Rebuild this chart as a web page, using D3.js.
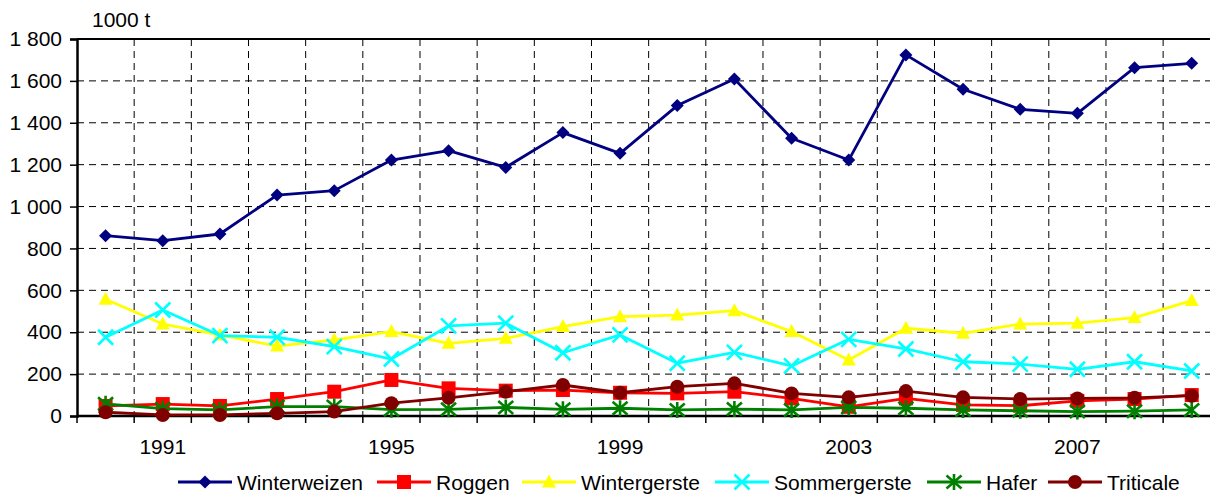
<!DOCTYPE html>
<html><head><meta charset="utf-8">
<script src="https://cdn.jsdelivr.net/npm/d3@7"></script>
<style>html,body{margin:0;padding:0;background:#fff;overflow:hidden}svg{display:block}text{font-family:"Liberation Sans",Arial,sans-serif}</style>
</head><body><svg id="c" width="1210" height="494"></svg>
<script>
const years = [1990,1991,1992,1993,1994,1995,1996,1997,1998,1999,2000,2001,2002,2003,2004,2005,2006,2007,2008,2009];
const xTickLabels = [1991,1995,1999,2003,2007];
const yTicks = [0,200,400,600,800,1000,1200,1400,1600,1800];
const unitLabel = "1000 t";
const seriesNames = ["Winterweizen","Roggen","Wintergerste","Sommergerste","Hafer","Triticale"];
const winterweizen = [861,837,869,1055,1076,1222,1267,1187,1353,1254,1482,1609,1326,1222,1724,1560,1464,1445,1663,1684];
const roggen = [48,57,48,81,116,172,132,121,124,111,108,116,84,44,84,53,49,72,81,100];
const wintergerste = [557,439,387,334,363,403,347,371,427,474,482,503,403,267,419,395,439,443,470,551];
const sommergerste = [376,506,384,376,331,272,430,443,302,387,252,304,239,366,320,259,248,223,259,215];
const hafer = [58,35,29,45,45,30,32,41,32,37,29,33,29,41,37,29,25,21,23,29];
const triticale = [18,5,5,13,21,61,87,116,148,111,140,156,108,89,119,89,81,84,87,97];
const seriesValues = [winterweizen,roggen,wintergerste,sommergerste,hafer,triticale];
const colors = ["#000080","#ff0000","#ffff00","#00ffff","#008000","#800000"];
const markers = ["diamond","square","triangle","x","star","circle"];

const svg = d3.select("#c");
const L = 77, R = 1220.3, T = 39, B = 416;
const FS = 21;
const x = d3.scaleBand().domain(years).range([L, R]);
const y = d3.scaleLinear().domain([0,1800]).range([B, T]);
const fmt = d3.formatLocale({decimal:",", thousands:" ", grouping:[3], currency:["","€"]}).format(",d");

// grid
const g = svg.append("g");
g.selectAll(".hg").data(yTicks.filter(d=>d>0&&d<1800)).join("line")
  .attr("x1",L).attr("x2",R).attr("y1",d=>y(d)).attr("y2",d=>y(d))
  .attr("stroke","#000").attr("stroke-width",1).attr("stroke-dasharray","7,5");
g.selectAll(".vg").data(years.slice(1)).join("line")
  .attr("x1",d=>x(d)).attr("x2",d=>x(d)).attr("y1",T).attr("y2",B)
  .attr("stroke","#000").attr("stroke-width",1).attr("stroke-dasharray","7,5");

// top border
svg.append("line").attr("x1",L).attr("x2",R).attr("y1",T).attr("y2",T).attr("stroke","#000").attr("stroke-width",2);

// y axis
const yAxis = d3.axisLeft(y).tickValues(yTicks).tickFormat(fmt).tickSize(7).tickPadding(8);
const ya = svg.append("g").attr("transform",`translate(${L},0)`).call(yAxis);
ya.select(".domain").attr("stroke-width",2.5);
ya.selectAll(".tick line").attr("stroke-width",1.5);
ya.selectAll("text").attr("font-size",FS).attr("font-family","Liberation Sans, Arial, sans-serif").attr("fill","#000");

// x axis
const xa = svg.append("g").attr("transform",`translate(0,${B})`);
xa.append("line").attr("x1",L).attr("x2",R).attr("stroke","#000").attr("stroke-width",2.5);
xa.selectAll(".xt").data(years).join("line")
  .attr("x1",d=>x(d)).attr("x2",d=>x(d)).attr("y1",0).attr("y2",7).attr("stroke","#000").attr("stroke-width",1.5);
xa.selectAll(".xl").data(xTickLabels).join("text")
  .attr("x",d=>x(d)+x.bandwidth()/2).attr("y",38).attr("text-anchor","middle")
  .attr("font-size",FS).text(d=>d);

svg.append("text").attr("x",92).attr("y",27).attr("font-size",FS).text(unitLabel);

function drawMarker(sel, type, color, cx, cy) {
  const gg = sel.append("g").attr("transform",`translate(${cx},${cy})`);
  if (type==="diamond") gg.append("path").attr("d","M0,-6.5L6.5,0L0,6.5L-6.5,0Z").attr("fill",color);
  else if (type==="square") gg.append("rect").attr("x",-7).attr("y",-7).attr("width",14).attr("height",14).attr("fill",color);
  else if (type==="triangle") gg.append("path").attr("d","M0,-7.5L7,5.5L-7,5.5Z").attr("fill",color);
  else if (type==="x") gg.append("path").attr("d","M-7.5,-7.5L7.5,7.5M7.5,-7.5L-7.5,7.5").attr("stroke",color).attr("stroke-width",2.6).attr("fill","none");
  else if (type==="star") gg.append("path").attr("d","M-7.5,-6.5L7.5,6.5M7.5,-6.5L-7.5,6.5M0,-8L0,8").attr("stroke",color).attr("stroke-width",2.6).attr("fill","none");
  else if (type==="circle") gg.append("circle").attr("r",7).attr("fill",color);
}

const line = d3.line().x((d,i)=>x(years[i])+x.bandwidth()/2).y(d=>y(d));
seriesValues.forEach((vals,k)=>{
  const sg = svg.append("g");
  sg.append("path").datum(vals).attr("d",line).attr("fill","none").attr("stroke",colors[k]).attr("stroke-width",2.8).attr("stroke-linejoin","round");
  vals.forEach((v,i)=>drawMarker(sg, markers[k], colors[k], x(years[i])+x.bandwidth()/2, y(v)));
});

// legend
const legX = [178,377,522,715,927,1048];
const legY = 482;
seriesNames.forEach((n,k)=>{
  const lg = svg.append("g");
  lg.append("line").attr("x1",legX[k]).attr("x2",legX[k]+54).attr("y1",legY).attr("y2",legY).attr("stroke",colors[k]).attr("stroke-width",2.8);
  drawMarker(lg, markers[k], colors[k], legX[k]+27, legY);
  lg.append("text").attr("x",legX[k]+59).attr("y",legY+7.5).attr("font-size",FS).text(n);
});
</script></body></html>
